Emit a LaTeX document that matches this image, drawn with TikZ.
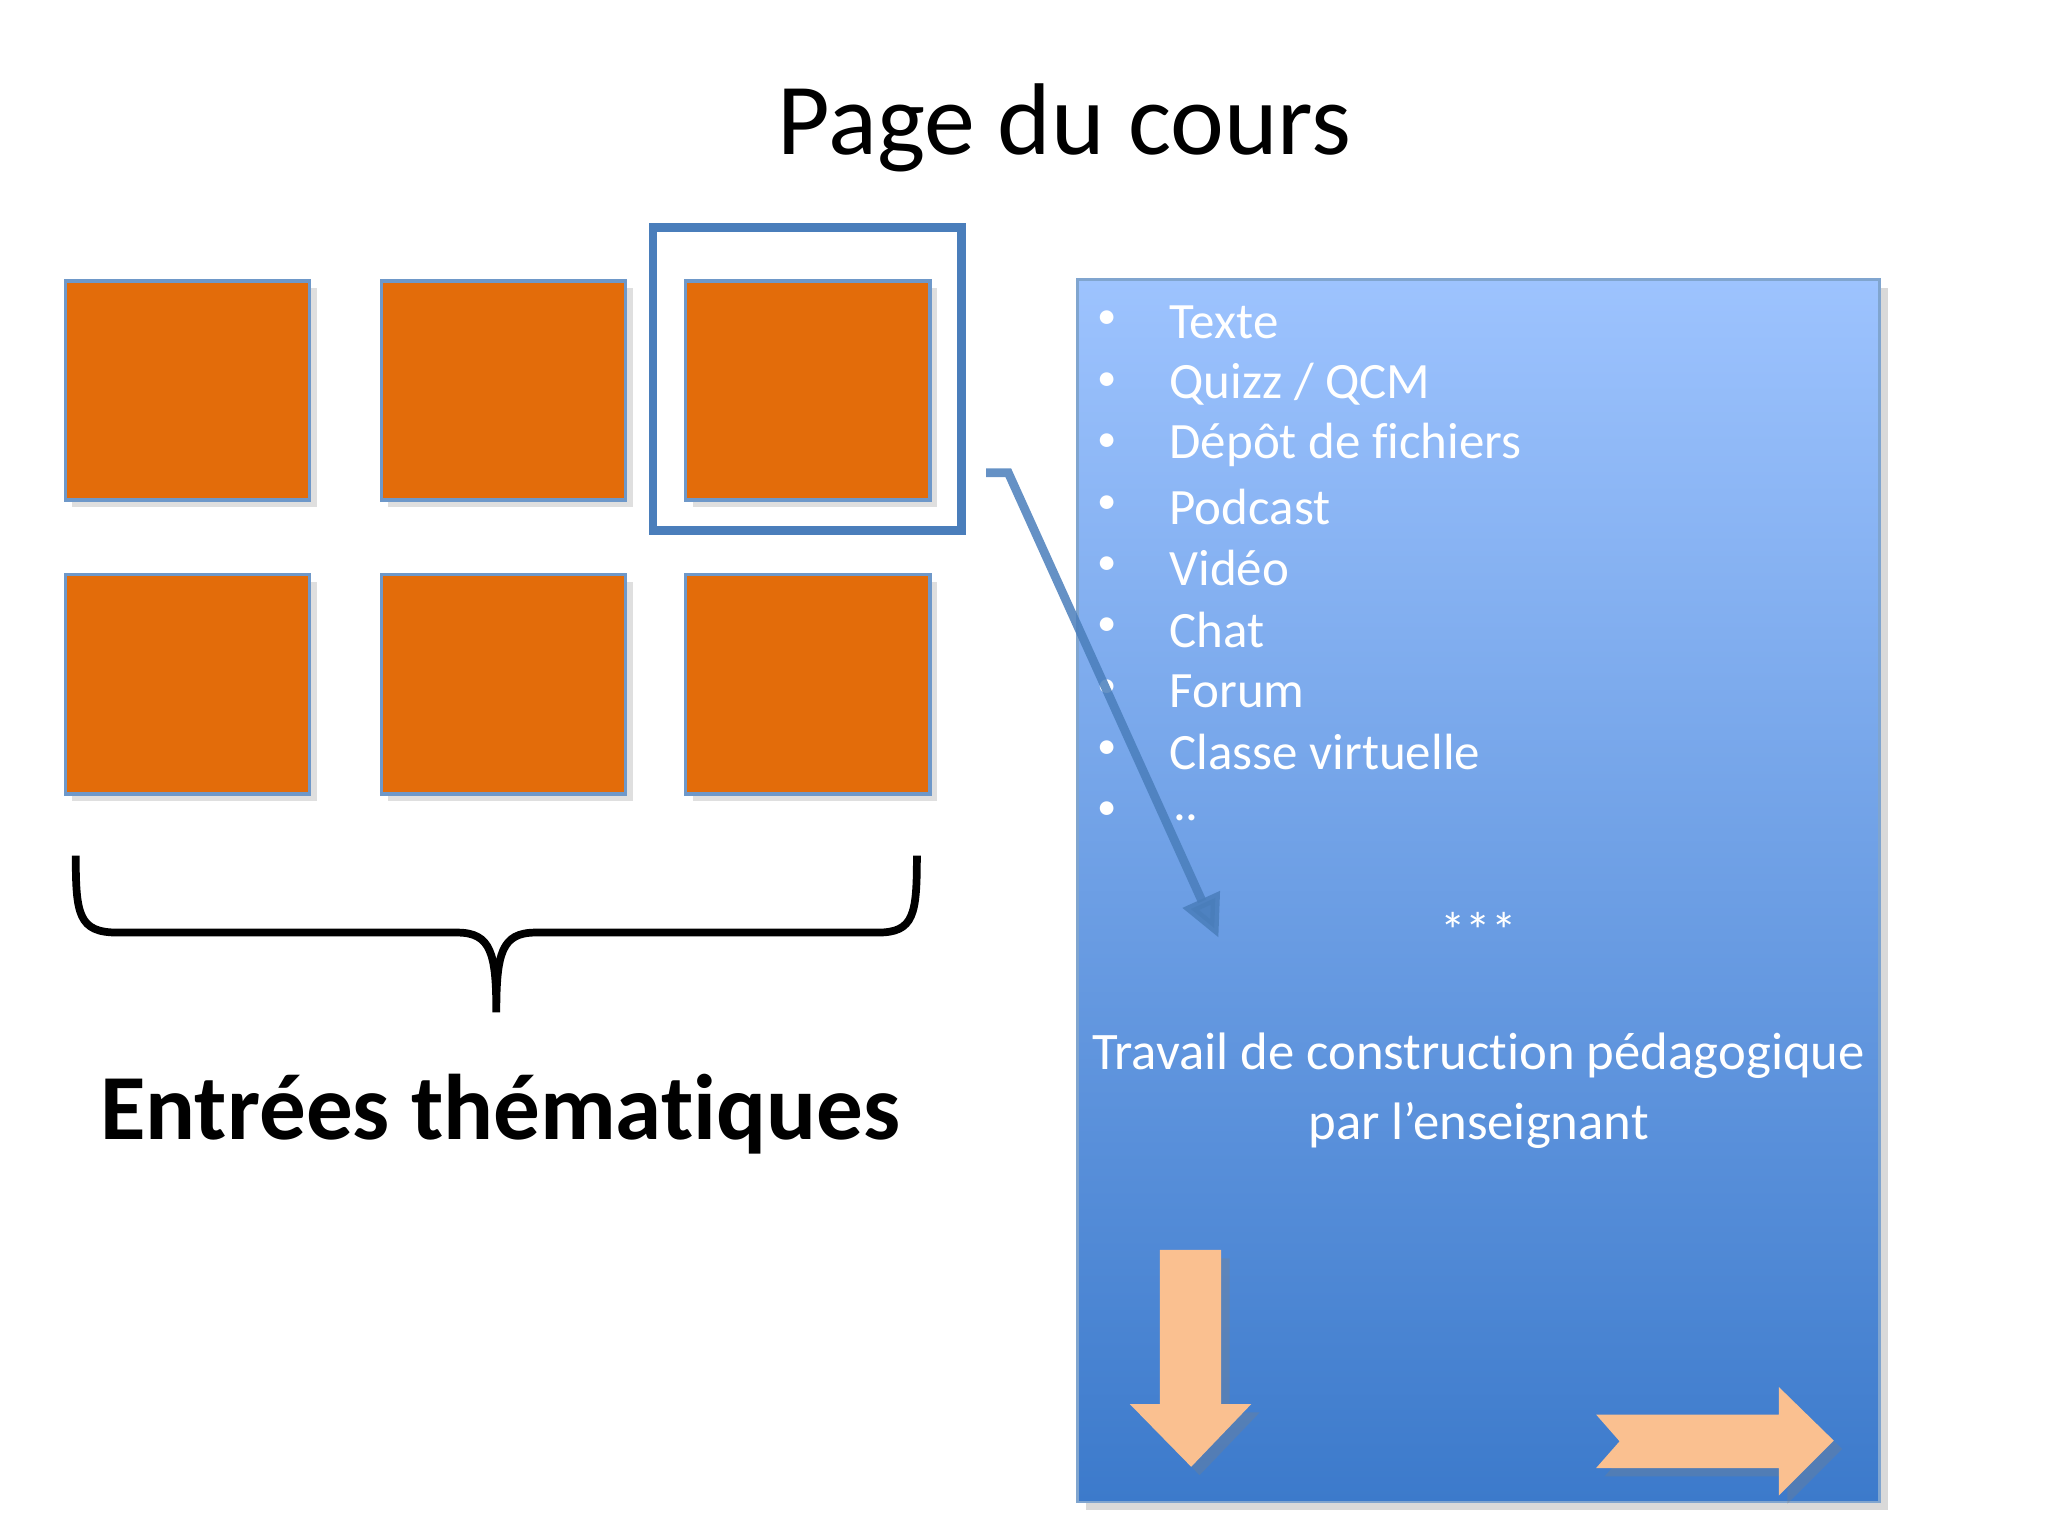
\documentclass[tikz,border=0pt]{standalone}
\usepackage{fontspec}
\setmainfont[Ligatures={NoCommon,NoContextual}]{Carlito}
\usetikzlibrary{arrows.meta,shadows}
\definecolor{org}{HTML}{E36C0A}
\definecolor{bfr}{HTML}{4A7EBB}
\definecolor{peach}{HTML}{FAC090}
\definecolor{btop}{HTML}{9DC3FE}
\definecolor{bbot}{HTML}{3C7ACB}
\tikzset{sq/.style={fill=org,draw=bfr!80,line width=1pt,drop shadow={opacity=0.25,shadow xshift=2pt,shadow yshift=-2pt}},
 item/.style={anchor=west,text=white,font=\fontsize{14.5}{18}\selectfont},
 bul/.style={text=white,font=\fontsize{11}{14}\selectfont}}
\begin{document}
\begin{tikzpicture}[x=0.01306cm,y=-0.01306cm]
\useasboundingbox (0,0) rectangle (1568,1176);
\node (title) at (815,98) {\fontsize{29}{34}\selectfont Page du cours};
\draw[sq] (50,215) rectangle (237,383);
\draw[sq] (292,215) rectangle (479,383);
\draw[sq] (525,215) rectangle (712,383);
\draw[sq] (50,440) rectangle (237,608);
\draw[sq] (292,440) rectangle (479,608);
\draw[sq] (525,440) rectangle (712,608);
\draw[bfr,line width=2.5pt] (500,174) rectangle (736,406);
\draw[line width=2.2pt] (58,655) .. controls (58,700) and (60,714) .. (90,714) -- (350,714) .. controls (376,714) and (380,730) .. (380,775)
  .. controls (380,730) and (384,714) .. (410,714) -- (672,714) .. controls (700,714) and (702,700) .. (702,655);
\node (entrees) at (383,853) {\fontsize{26.5}{30}\selectfont\bfseries Entrées thématiques};
\shade[top color=btop,bottom color=bbot,drop shadow={opacity=0.3}] (825,214) rectangle (1439,1150);
\draw[bfr!70,line width=0.8pt] (825,214) rectangle (1439,1150);
\foreach \t [count=\i from 0] in {Texte,Quizz / QCM,Dépôt de fichiers,Podcast,Vidéo,Chat,Forum,Classe virtuelle,}{
  \node[bul] at (848,{245+47*\i}) {•};
  \node[item] at (886,{247+47*\i}) {\t};
}
\node[text=white,font=\fontsize{14.5}{18}\selectfont] at (908,626) {..};
\node[text=white,font=\fontsize{14.5}{18}\selectfont] (stars) at (1132,712) {***};
\node[text=white,font=\fontsize{15}{20}\selectfont,align=center] (travail) at (1132,835) {Travail de construction pédagogique\\par l’enseignant};
\coordinate (c0) at (755,362);
\coordinate (c1) at (772,362);
\coordinate (c2) at (933,718);
\draw[bfr,opacity=0.85,line width=2.5pt,-{Triangle[length=12pt,width=11pt]}] (c0) -- (c1) -- (c2);
\fill[peach,drop shadow={opacity=0.3}] (888,957) -- (935,957) -- (935,1075) -- (958,1075) -- (912,1123) -- (865,1075) -- (888,1075) -- cycle;
\fill[peach,drop shadow={opacity=0.3}] (1222,1083) -- (1362,1083) -- (1362,1062) -- (1404,1103) -- (1362,1145) -- (1362,1124) -- (1222,1124) -- (1240,1103.5) -- cycle;
\end{tikzpicture}
\end{document}
